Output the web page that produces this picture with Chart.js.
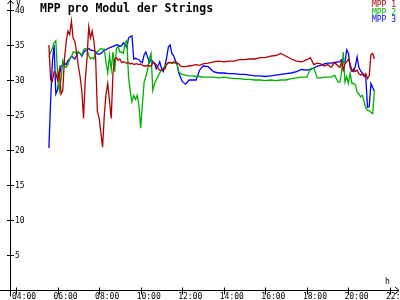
<!DOCTYPE html>
<html lang="de">
<head>
    <meta charset="UTF-8">
    <title>MPP pro Modul der Strings</title>
    <script src="https://cdn.jsdelivr.net/npm/chart.js"></script>
    <style>
        body { margin: 0; background: #fff; }
        canvas { display: block; }
    </style>
</head>
<body>
    <canvas id="mppChart" width="400" height="300"></canvas>

    <script>
        // Messzeiten
        const zeiten = [
            "05:35","05:40","05:45","05:50","05:55",
            "06:00","06:05","06:10","06:15","06:20","06:25","06:30","06:35","06:40","06:45","06:50","06:55",
            "07:00","07:05","07:10","07:15","07:20","07:25","07:30","07:35","07:40","07:45","07:50","07:55",
            "08:00","08:05","08:10","08:15","08:20","08:25","08:30","08:35","08:40","08:45","08:50","08:55",
            "09:00","09:05","09:10","09:15","09:20","09:25","09:30","09:35","09:40","09:45","09:50","09:55",
            "10:00","10:05","10:10","10:15","10:20","10:25","10:30","10:35","10:40","10:45","10:50","10:55",
            "11:00","11:05","11:10","11:15","11:20","11:25","11:30","11:35","11:40","11:45","11:50","11:55",
            "12:00","12:10","12:20","12:30","12:40","12:50","13:00",
            "13:15","13:30","13:45","14:00","14:15","14:30","14:45","15:00","15:15","15:30",
            "15:45","16:00","16:15","16:30","16:45","17:00","17:15","17:30","17:45","18:00",
            "18:10","18:20","18:30","18:40","18:50","19:00","19:10","19:20","19:30",
            "19:35","19:40","19:45","19:50","19:55","20:00","20:05","20:10","20:15","20:20","20:25",
            "20:30","20:35","20:40","20:45","20:50","20:55","21:00","21:05","21:10","21:15"
        ];

        // Spannung pro Modul (V)
        const mpp1 = [
            35.0, 30.0, 29.8, 31.2, 31.0,
            30.0, 31.5, 28.0, 28.5, 33.0, 35.5, 37.0, 36.5, 38.4, 36.0, 35.5, 34.0,
            32.0, 30.5, 28.5, 24.5, 30.0, 33.0, 37.6, 36.0, 37.0, 35.5, 33.0, 25.5,
            24.6, 22.5, 20.4, 25.0, 28.0, 29.5, 27.0, 24.5, 31.0, 33.0, 33.2, 32.8,
            33.0, 32.5, 32.6, 32.5, 32.4, 32.5, 32.3, 32.4, 32.2, 32.3, 32.3, 32.2,
            32.3, 32.1, 32.0, 32.0, 32.1, 32.0, 32.0, 32.4, 32.4, 32.2, 31.7, 31.4,
            31.4, 31.6, 31.6, 32.2, 32.5, 32.5, 32.4, 32.6, 32.5, 32.4, 32.3, 32.0,
            31.9, 31.9, 32.0, 32.1, 32.2, 32.1, 32.3,
            32.4, 32.6, 32.7, 32.6, 32.7, 32.7, 32.9, 32.9, 33.0, 33.0,
            33.2, 33.2, 33.4, 33.5, 33.8, 33.4, 33.0, 32.7, 32.6, 32.9,
            33.2, 32.2, 32.4, 32.3, 32.0, 32.2, 31.8, 32.5, 32.0,
            31.8, 32.6, 31.4, 32.3, 32.6, 33.0, 32.3, 31.3, 31.6, 31.2, 31.4,
            30.9, 30.7, 30.9, 30.5, 30.9, 30.2, 30.6, 33.6, 33.8, 33.0
        ];
        const mpp2 = [
            33.3, 34.0, 34.5, 35.3, 35.6,
            31.0, 28.5, 30.0, 32.8, 32.0, 31.8, 32.2, 33.0, 33.3, 34.0, 34.0, 33.7,
            34.0, 33.8, 33.5, 34.3, 34.5, 34.4, 33.5, 33.0, 33.2, 33.0, 34.0, 34.0,
            34.3, 34.5, 34.4, 34.4, 32.5, 31.0, 33.5, 31.5, 34.0, 31.2, 34.5, 34.8,
            34.0, 34.0, 33.8, 35.3, 35.6, 30.4, 28.3, 26.9, 27.8, 27.2, 27.8, 26.4,
            23.1, 26.5, 29.7, 30.5, 31.5, 33.0, 33.8, 28.5, 29.5, 30.0, 30.5, 31.0,
            31.4, 31.7, 32.0, 32.3, 32.4, 32.5, 32.4, 32.4, 32.4, 32.3, 31.2, 30.9,
            30.8, 30.7, 30.6, 30.6, 30.5, 30.5, 30.4,
            30.4, 30.4, 30.3, 30.4, 30.3, 30.2, 30.2, 30.1, 30.1, 30.0,
            30.0, 29.9, 30.0, 29.9, 30.0, 30.0, 30.2, 30.3, 30.4, 30.4,
            31.6, 31.7, 30.3, 30.3, 30.4, 30.4, 30.4, 30.7, 29.7,
            29.7, 31.0, 34.0, 29.7, 30.5, 29.5, 31.0, 29.5, 29.5, 29.3, 28.3,
            28.0, 27.6, 27.8, 27.0, 26.0, 25.7, 25.6, 25.4, 25.2, 28.6
        ];
        const mpp3 = [
            20.3, 27.0, 32.6, 35.0, 28.0,
            28.6, 30.5, 32.0, 32.0, 32.4, 32.2, 32.8, 33.0, 33.4, 33.2, 33.0, 33.5,
            34.0, 33.8, 33.4, 33.9, 34.2, 34.3, 34.5, 34.3, 34.2, 34.2, 34.0, 33.7,
            33.7, 33.8, 34.0, 34.3, 34.3, 34.5, 34.6, 34.7, 34.8, 34.9, 35.0, 35.0,
            34.8, 34.9, 35.3, 35.0, 34.6, 36.0, 36.2, 36.3, 33.0, 33.1, 33.0, 32.9,
            32.6, 32.5, 33.6, 34.0, 33.3, 32.5, 33.0, 32.6, 32.4, 31.6, 32.0, 32.6,
            31.7, 31.2, 32.0, 33.2, 34.7, 35.0, 33.8, 33.5, 32.8, 32.3, 31.0, 30.4,
            29.8, 29.4, 30.0, 30.0, 30.0, 31.4, 32.0,
            31.9, 31.2, 31.0, 31.0, 30.9, 30.9, 30.8, 30.8, 30.7, 30.6,
            30.6, 30.5, 30.6, 30.7, 30.8, 30.9, 31.0, 31.2, 31.5, 31.4,
            31.5, 31.7, 32.0, 32.1, 32.3, 32.4, 32.4, 32.5, 32.6,
            32.6, 32.9, 32.5, 32.6, 34.3, 33.8, 31.8, 31.3, 31.2, 32.0, 33.3,
            31.8, 31.3, 31.0, 30.8, 30.5, 26.1, 26.2, 29.5, 28.9, 28.4
        ];

        // Achsenbeschriftung
        const xTickLabels = ["04:00","06:00","08:00","10:00","12:00","14:00","16:00","18:00","20:00","22:00"];
        const yTickValues = [5, 10, 15, 20, 25, 30, 35, 40];
        const serienNamen = ["MPP 1", "MPP 2", "MPP 3"];
        const serienFarben = ["#b00000", "#00b000", "#0000ff"];

        // "hh:mm" -> Stunden als Zahl
        const toHours = s => {
            const [hh, mm] = s.split(':').map(Number);
            return hh + mm / 60;
        };
        const zeitenNum = zeiten.map(toHours);

        const mkSet = (werte, i) => ({
            label: serienNamen[i],
            data: werte.map((v, k) => ({ x: zeitenNum[k], y: v })),
            borderColor: serienFarben[i],
            borderWidth: 1.3,
            pointRadius: 0,
            tension: 0,
            fill: false
        });

        const mono = '"DejaVu Sans Mono", "Liberation Mono", monospace';

        // Achsen, Beschriftung, Titel und Legende selbst zeichnen
        const achsenPlugin = {
            id: 'achsen',
            beforeDatasetsDraw(chart) {
                const ctx = chart.ctx;
                const xs = chart.scales.x, ys = chart.scales.y;
                const y0 = Math.round(ys.getPixelForValue(0)) + 0.5;
                ctx.save();
                ctx.strokeStyle = '#000';
                ctx.lineWidth = 1;
                ctx.beginPath();
                // y-Achse mit Pfeil
                ctx.moveTo(10.5, 0);
                ctx.lineTo(10.5, y0 + 6);
                ctx.moveTo(7.5, 4);
                ctx.lineTo(10.5, 0.5);
                ctx.lineTo(13.5, 4);
                // x-Achse mit Pfeil
                ctx.moveTo(0, y0);
                ctx.lineTo(399, y0);
                ctx.moveTo(395, y0 - 3.5);
                ctx.lineTo(399, y0);
                ctx.lineTo(395, y0 + 3.5);
                // Striche
                yTickValues.forEach(v => {
                    const py = Math.round(ys.getPixelForValue(v)) + 0.5;
                    ctx.moveTo(7, py);
                    ctx.lineTo(14, py);
                });
                xTickLabels.forEach(l => {
                    const px = Math.round(xs.getPixelForValue(toHours(l))) + 0.5;
                    ctx.moveTo(px, y0 - 3);
                    ctx.lineTo(px, y0 + 4);
                });
                ctx.stroke();

                ctx.fillStyle = '#000';
                ctx.font = '8px ' + mono;
                ctx.textAlign = 'left';
                ctx.textBaseline = 'middle';
                yTickValues.forEach(v => {
                    const py = Math.round(ys.getPixelForValue(v)) + 1;
                    ctx.fillText(String(v), 15, py);
                });
                ctx.textBaseline = 'top';
                xTickLabels.forEach(l => {
                    const px = xs.getPixelForValue(toHours(l));
                    ctx.fillText(l, px - 4, y0 + 2);
                });
                ctx.textBaseline = 'alphabetic';
                ctx.fillText('V', 16, 6);
                ctx.fillText('h', 385, 284);
                ctx.restore();
            },
            afterDraw(chart) {
                const ctx = chart.ctx;
                ctx.save();
                ctx.fillStyle = '#000';
                ctx.font = 'bold 11.5px ' + mono;
                ctx.textAlign = 'left';
                ctx.textBaseline = 'alphabetic';
                ctx.fillText('MPP pro Modul der Strings', 40, 12);
                ctx.font = '8px ' + mono;
                ctx.textAlign = 'right';
                serienNamen.forEach((n, i) => {
                    ctx.fillStyle = serienFarben[i];
                    ctx.fillText(n, 396, 7 + i * 7.5);
                });
                ctx.restore();
            }
        };

        new Chart(document.getElementById('mppChart'), {
            type: 'line',
            data: { datasets: [mkSet(mpp1, 0), mkSet(mpp2, 1), mkSet(mpp3, 2)] },
            options: {
                responsive: false,
                animation: false,
                layout: { padding: { left: 16, right: 10, top: 10, bottom: 10 } },
                scales: {
                    x: { type: 'linear', display: false, min: 4, max: 22 },
                    y: { display: false, min: 0, max: 40 }
                },
                plugins: {
                    legend: { display: false },
                    title: { display: false },
                    tooltip: { enabled: false }
                }
            },
            plugins: [achsenPlugin]
        });
    </script>
</body>
</html>
